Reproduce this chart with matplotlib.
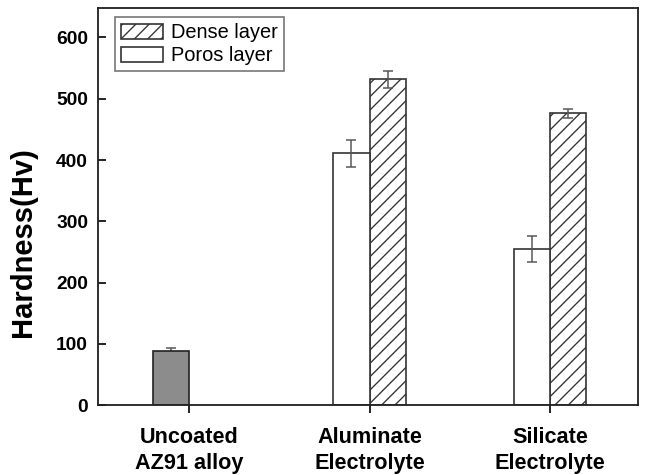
import matplotlib
matplotlib.use("Agg")
import matplotlib.pyplot as plt
import numpy as np

plt.rcParams["font.family"] = ["Liberation Sans", "DejaVu Sans"]
plt.rcParams["hatch.linewidth"] = 0.8

# data
categories = ["Uncoated\nAZ91 alloy", "Aluminate\nElectrolyte", "Silicate\nElectrolyte"]
uncoated_val = 88
uncoated_err = 5
porous_vals = [411, 255]
porous_errs = [22, 21]
dense_vals = [532, 476]
dense_errs = [14, 8]

fig = plt.figure(figsize=(645 / 120, 475 / 120), dpi=120)
ax = fig.add_axes([0.152, 0.147, 0.837, 0.836])

x = np.arange(len(categories))
w = 0.2
err_kw = dict(fmt="none", ecolor="#555555", elinewidth=0.9, capsize=3, capthick=0.9)

# uncoated alloy (single grey bar)
ax.errorbar(x[0] - w / 2, uncoated_val, yerr=uncoated_err, zorder=1, **err_kw)
ax.bar(x[0] - w / 2, uncoated_val, w, color="#8c8c8c", edgecolor="#222222",
       linewidth=1.0, zorder=2)

# coated samples
xc = x[1:]
ax.bar(xc + w / 2, dense_vals, w, color="white", edgecolor="#333333",
       hatch="///", linewidth=1.0, label="Dense layer", zorder=2)
ax.bar(xc - w / 2, porous_vals, w, color="white", edgecolor="#333333",
       linewidth=1.0, label="Poros layer", zorder=2)
ax.errorbar(xc + w / 2, dense_vals, yerr=dense_errs, zorder=3, **err_kw)
ax.errorbar(xc - w / 2, porous_vals, yerr=porous_errs, zorder=3, **err_kw)

ax.set_xlim(-0.504, 2.487)
ax.set_ylim(0, 648)
ax.set_yticks([0, 100, 200, 300, 400, 500, 600])
ax.set_xticks(x)
ax.set_xticklabels(categories, fontsize=13, fontweight="bold", linespacing=1.3)
ax.set_ylabel("Hardness(Hv)", fontsize=17.5, fontweight="bold")
ax.yaxis.set_label_coords(-0.113, 0.41)

for lab in ax.get_yticklabels():
    lab.set_fontweight("bold")
ax.tick_params(axis="y", direction="in", length=5, width=1, labelsize=11.5, pad=6)
ax.tick_params(axis="x", direction="out", length=5, width=1, pad=8)
for sp in ax.spines.values():
    sp.set_linewidth(1.1)
    sp.set_color("#222222")

leg = ax.legend(loc="upper left", bbox_to_anchor=(0.031, 0.977), borderaxespad=0,
                fontsize=12, fancybox=False, edgecolor="#777777",
                handlelength=2.1, handleheight=0.8, handletextpad=0.4,
                labelspacing=0.2, borderpad=0.3, framealpha=1)
leg.get_frame().set_linewidth(1.0)

fig.savefig("out.png", dpi=120)
